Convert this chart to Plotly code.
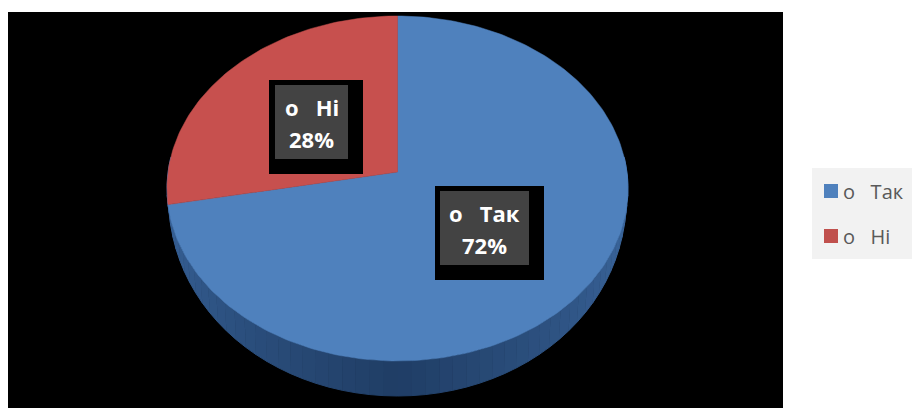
import math
import plotly.graph_objects as go

categories = ["о\u00a0\u00a0\u00a0Так", "о\u00a0\u00a0\u00a0Ні"]
values = [72, 28]
percent_labels = ["72%", "28%"]
slice_colors = ["#4f81bd", "#c7504e"]
legend_colors = ["#4f81bd", "#c0504d"]

W, H = 912, 408
CX, APEX_Y, TOP_Y, BOT_Y, RX = 397.5, 172.0, 16.0, 361.0, 230.5
c = (TOP_Y + BOT_Y - 2 * APEX_Y) / (BOT_Y - TOP_Y)
b = TOP_Y * (1 + c) - APEX_Y
k = RX * math.sqrt(1 - c * c)


def project(theta):
    """Tilted-disc projection of a clockwise-from-top pie angle."""
    sx, sy = math.sin(theta), math.cos(theta)
    d = 1 + c * sy
    return CX + k * sx / d, (APEX_Y + b * sy) / d


def lower(theta):
    x, y = project(theta)
    return CX + (x - CX) * 0.995, y + 35 * max(0.0, (y - 188) / 173) ** 0.6


fig = go.Figure()

# Rim of the disc
n = 60
side_stops = [(0.0, (66, 112, 170)), (0.5, (32, 62, 102)), (1.0, (60, 104, 160))]
start, end = math.radians(85), math.radians(275)
for i in range(n):
    t0 = start + (end - start) * i / n
    t1 = start + (end - start) * (i + 1) / n
    f = i / (n - 1)
    if f < 0.5:
        q = f / 0.5
        col = [side_stops[0][1][j] + (side_stops[1][1][j] - side_stops[0][1][j]) * q for j in range(3)]
    else:
        q = (f - 0.5) / 0.5
        col = [side_stops[1][1][j] + (side_stops[2][1][j] - side_stops[1][1][j]) * q for j in range(3)]
    p = [project(t0), project(t1), lower(t1), lower(t0)]
    color = "rgb(%d,%d,%d)" % tuple(col)
    fig.add_trace(go.Scatter(x=[q_[0] for q_ in p], y=[q_[1] for q_ in p], mode="lines",
                             fill="toself", fillcolor=color, line=dict(color=color, width=1),
                             hoverinfo="skip", showlegend=False))

# Slices, from the values, clockwise from 12 o'clock
total = sum(values)
acc = 0.0
for name, value, color in zip(categories, values, slice_colors):
    a0 = 2 * math.pi * acc / total
    acc += value
    a1 = 2 * math.pi * acc / total
    steps = max(2, int(value * 3))
    pts = [project(a0 + (a1 - a0) * s / steps) for s in range(steps + 1)]
    xs = [CX] + [pt[0] for pt in pts] + [CX]
    ys = [APEX_Y] + [pt[1] for pt in pts] + [APEX_Y]
    fig.add_trace(go.Scatter(x=xs, y=ys, mode="lines", fill="toself", fillcolor=color,
                             line=dict(color=color, width=0.5), name=name,
                             hovertemplate=f"{name}: {value}%<extra></extra>", showlegend=False))

shapes = [dict(type="rect", xref="x", yref="y", x0=8, x1=783, y0=12, y1=408,
               fillcolor="#000000", line_width=0, layer="below"),
          dict(type="rect", xref="x", yref="y", x0=812, x1=912, y0=168, y1=259,
               fillcolor="#f2f2f2", line_width=0, layer="below")]

# Data label boxes: (outer black box, inner dark panel)
label_boxes = [((435, 544, 186, 280), (440, 529, 191, 265)),
               ((269, 363, 80, 174), (275, 348, 85, 159))]
annotations = []
for (outer, inner), cat, pct in zip(label_boxes, categories, percent_labels):
    shapes.append(dict(type="rect", x0=outer[0], x1=outer[1], y0=outer[2], y1=outer[3],
                       fillcolor="#000000", line_width=0))
    shapes.append(dict(type="rect", x0=inner[0], x1=inner[1], y0=inner[2], y1=inner[3],
                       fillcolor="#434343", line_width=0))
    mid = (inner[0] + inner[1]) / 2
    annotations.append(dict(x=mid, y=inner[2] + 22, text=f"<b>{cat}</b>", showarrow=False,
                            font=dict(family="Open Sans", size=22, color="#ffffff")))
    annotations.append(dict(x=mid, y=inner[2] + 54, text=f"<b>{pct}</b>", showarrow=False,
                            font=dict(family="Open Sans", size=22, color="#ffffff")))

# Legend
legend_y = [191, 236]
for yy, cat, color in zip(legend_y, categories, legend_colors):
    shapes.append(dict(type="rect", x0=824, x1=838, y0=yy - 7, y1=yy + 7, fillcolor=color, line_width=0))
    annotations.append(dict(x=841, y=yy, text=cat, showarrow=False, xanchor="left",
                            font=dict(family="Open Sans", size=20, color="#595959")))

for a in annotations:
    a.update(xref="x", yref="y")
for s in shapes:
    s.setdefault("xref", "x")
    s.setdefault("yref", "y")

fig.update_layout(width=W, height=H, margin=dict(l=0, r=0, t=0, b=0),
                  paper_bgcolor="#ffffff", plot_bgcolor="#ffffff", showlegend=False,
                  shapes=shapes, annotations=annotations,
                  xaxis=dict(range=[0, W], visible=False, fixedrange=True),
                  yaxis=dict(range=[H, 0], visible=False, fixedrange=True))
fig.write_html("out.html", config=dict(displayModeBar=False, responsive=False),
               post_script="document.body.style.margin='0';document.documentElement.style.overflow='hidden';")
